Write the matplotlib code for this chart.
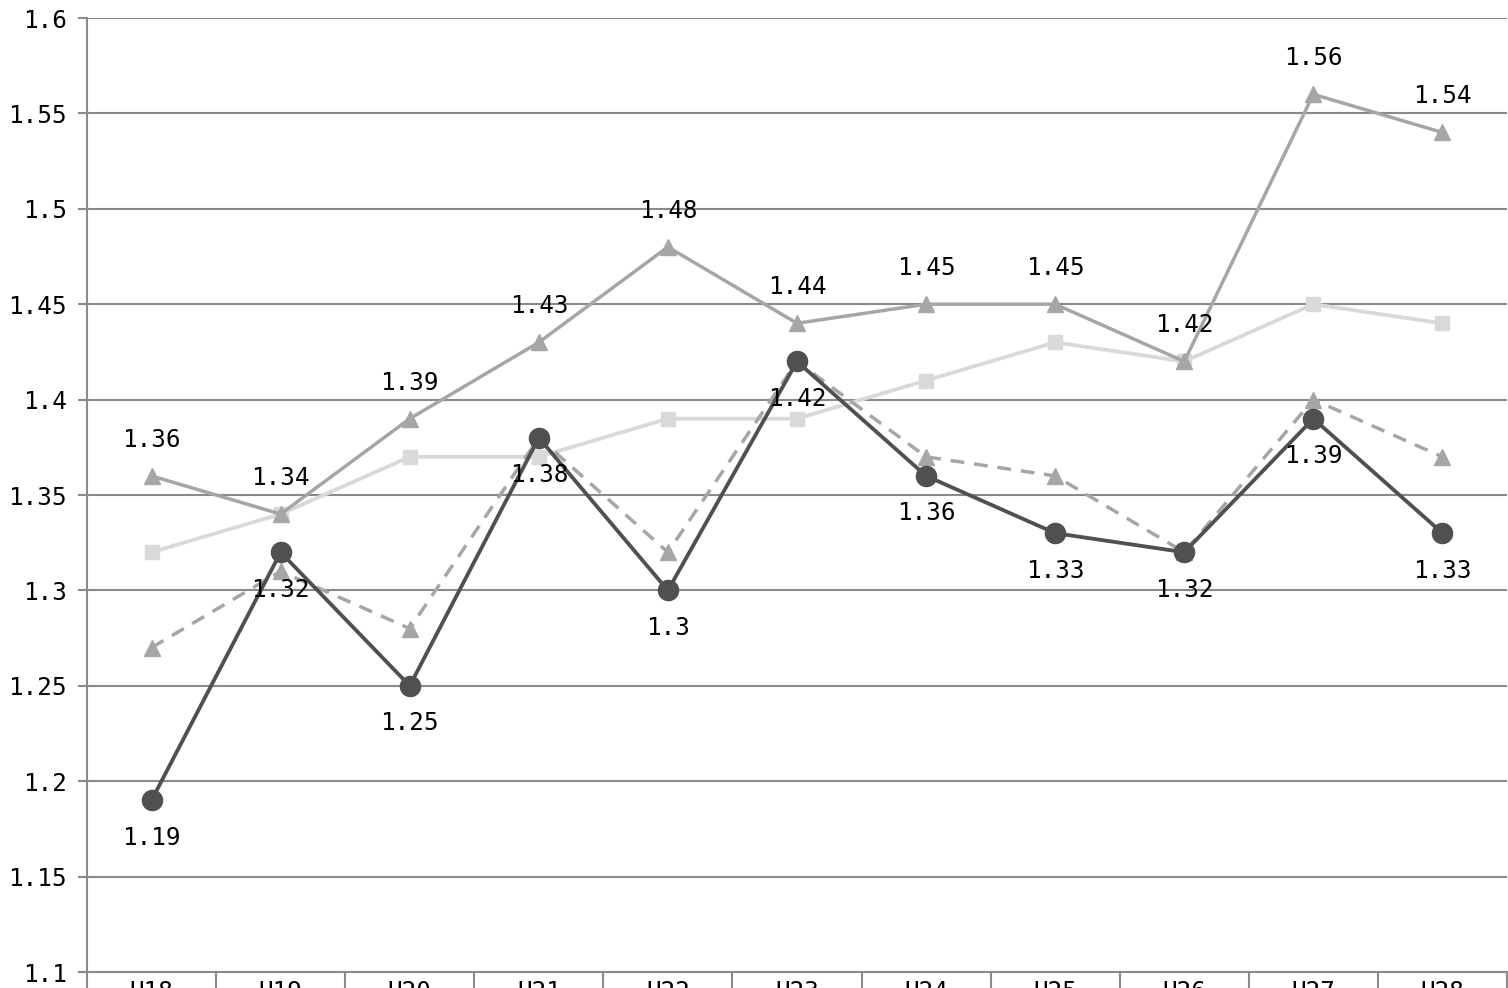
import matplotlib.pyplot as plt
import numpy as np

# data
years = ['H18', 'H19', 'H20', 'H21', 'H22', 'H23', 'H24', 'H25', 'H26', 'H27', 'H28']
darkRate = [1.19, 1.32, 1.25, 1.38, 1.30, 1.42, 1.36, 1.33, 1.32, 1.39, 1.33]
upperRate = [1.36, 1.34, 1.39, 1.43, 1.48, 1.44, 1.45, 1.45, 1.42, 1.56, 1.54]
lightRate = [1.32, 1.34, 1.37, 1.37, 1.39, 1.39, 1.41, 1.43, 1.42, 1.45, 1.44]
dashRate = [1.27, 1.31, 1.28, 1.38, 1.32, 1.42, 1.37, 1.36, 1.32, 1.40, 1.37]
yTicks = [1.1, 1.15, 1.2, 1.25, 1.3, 1.35, 1.4, 1.45, 1.5, 1.55, 1.6]

numFont = 'DejaVu Sans Mono'
gridCol = '#8a8a8a'

fig = plt.figure(figsize=(15.08, 9.88), dpi=100)
ax = fig.add_axes([87 / 1508, 1 - 972 / 988, 1420 / 1508, 954 / 988])

x = np.arange(len(years))

ax.plot(x, lightRate, color='#d9d9d9', lw=2.75, marker='s', ms=10, zorder=2)
ax.plot(x, upperRate, color='#a6a6a6', lw=2.5, marker='^', ms=11, zorder=3)
ax.plot(x, dashRate, color='#a6a6a6', lw=2.5, marker='^', ms=11,
        dashes=(4, 2.8), zorder=4)
ax.plot(x, darkRate, color='#505050', lw=2.75, marker='o', ms=14.5, zorder=5)

for i in range(len(years)):
    ax.annotate('{:g}'.format(upperRate[i]), (x[i], upperRate[i]),
                xytext=(0, 26), textcoords='offset points', ha='center',
                va='center', fontsize=17.5, family=numFont, zorder=6)
    ax.annotate('{:g}'.format(darkRate[i]), (x[i], darkRate[i]),
                xytext=(0, -27), textcoords='offset points', ha='center',
                va='center', fontsize=17.5, family=numFont, zorder=6)

ax.set_xlim(-0.5, len(years) - 0.5)
ax.set_ylim(1.1, 1.6)
ax.set_yticks(yTicks)
ax.set_yticklabels(['{:g}'.format(v) for v in yTicks], family=numFont, fontsize=17.5)
ax.set_xticks(x)
ax.set_xticklabels(years, family=numFont, fontsize=17.5)
ax.set_xticks(np.arange(-0.5, len(years)), minor=True)

ax.grid(axis='y', color=gridCol, lw=1.5, zorder=1)
ax.set_axisbelow(True)
for side in ['top', 'right']:
    ax.spines[side].set_visible(False)
for side in ['left', 'bottom']:
    ax.spines[side].set_color(gridCol)
    ax.spines[side].set_linewidth(1.5)

ax.tick_params(axis='y', length=6.5, width=1.5, color=gridCol, pad=8)
ax.tick_params(axis='x', which='major', length=0, pad=6)
ax.tick_params(axis='x', which='minor', length=20, width=1.5, color=gridCol)

fig.text(0.42, 0.997, '合計特殊出生率の推移', ha='center', va='bottom',
         fontsize=24, family=['Noto Sans CJK JP', 'DejaVu Sans'])

fig.savefig('out.png', dpi=100)
